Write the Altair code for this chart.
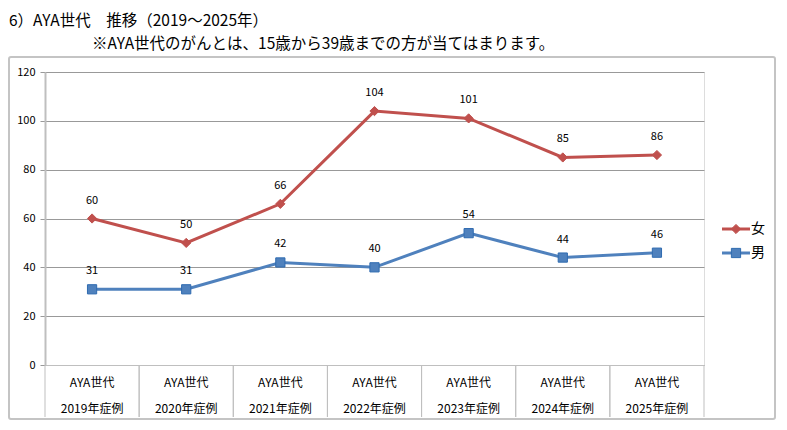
import altair as alt
import pandas as pd

# ---- data ----
years = ["2019年症例", "2020年症例", "2021年症例", "2022年症例", "2023年症例", "2024年症例", "2025年症例"]
group_labels = ["AYA世代", "AYA世代", "AYA世代", "AYA世代", "AYA世代", "AYA世代", "AYA世代"]
female = [60, 50, 66, 104, 101, 85, 86]
male = [31, 31, 42, 40, 54, 44, 46]
series = ["女", "男"]
colors = ["#C0504D", "#4F81BD"]
strokes = ["#C0504D", "#2F6BB0"]
shapes = ["diamond", "square"]
y_ticks = [0, 20, 40, 60, 80, 100, 120]
title_text = "6）AYA世代　推移（2019～2025年）"
subtitle_text = "※AYA世代のがんとは、15歳から39歳までの方が当てはまります。"

FONT = "Noto Sans CJK JP"
W, H = 659, 293

rows = []
for i, y in enumerate(years):
    rows.append({"cat": y, "top": group_labels[i], "value": female[i], "series": series[0]})
    rows.append({"cat": y, "top": group_labels[i], "value": male[i], "series": series[1]})
df = pd.DataFrame(rows)
cats = pd.DataFrame({"cat": years, "top": group_labels})

xscale = alt.Scale(type="band", paddingInner=0, paddingOuter=0)
x_enc = alt.X("cat:N", sort=years, scale=xscale,
              axis=alt.Axis(labels=False, ticks=False, title=None, grid=False,
                            domainColor="#BFBFBF", domainWidth=1))
y_enc = alt.Y("value:Q", scale=alt.Scale(domain=[0, 120], nice=False),
              axis=alt.Axis(values=y_ticks, title=None, grid=True, gridColor="#999999",
                            gridWidth=1, domainColor="#BFBFBF", domainWidth=2,
                            tickColor="#999999", tickSize=5, labelFontSize=11,
                            labelColor="#000000", labelPadding=5, labelFont=FONT))

one = pd.DataFrame({"k": [0]})

border = alt.Chart(one).mark_rect(fill="transparent", stroke="#C4C4C4", strokeWidth=2,
                                  cornerRadius=2).encode(
    x=alt.value(-36), x2=alt.value(730), y=alt.value(-15), y2=alt.value(347))

title = alt.Chart(one).mark_text(align="left", baseline="middle", font=FONT, fontSize=15.5,
                                 color="#000000", text=title_text).encode(
    x=alt.value(-36), y=alt.value(-51))
subtitle = alt.Chart(one).mark_text(align="left", baseline="middle", font=FONT, fontSize=15.5,
                                    color="#000000", text=subtitle_text).encode(
    x=alt.value(47), y=alt.value(-28))

sep0 = alt.Chart(cats).mark_rule(color="#BFBFBF", strokeWidth=1).encode(
    x=alt.X("cat:N", sort=years, scale=xscale, bandPosition=0),
    y=alt.value(H), y2=alt.value(H + 52))
sep1 = alt.Chart(cats).mark_rule(color="#BFBFBF", strokeWidth=1).encode(
    x=alt.X("cat:N", sort=years, scale=xscale, bandPosition=1),
    y=alt.value(H), y2=alt.value(H + 52))

cat_top = alt.Chart(cats).mark_text(font=FONT, fontSize=12, baseline="middle",
                                    color="#000000").encode(
    x=alt.X("cat:N", sort=years, scale=xscale), y=alt.value(H + 18), text="top:N")
cat_bot = alt.Chart(cats).mark_text(font=FONT, fontSize=12, baseline="middle",
                                    color="#000000").encode(
    x=alt.X("cat:N", sort=years, scale=xscale), y=alt.value(H + 44), text="cat:N")

color_scale = alt.Scale(domain=series, range=colors)
lines = alt.Chart(df).mark_line(strokeWidth=3).encode(
    x=x_enc, y=y_enc, color=alt.Color("series:N", scale=color_scale, legend=None),
    detail="series:N")
points = alt.Chart(df).mark_point(filled=True, size=85, opacity=1, strokeWidth=1).encode(
    x=alt.X("cat:N", sort=years, scale=xscale), y="value:Q",
    fill=alt.Fill("series:N", scale=color_scale, legend=None),
    stroke=alt.Stroke("series:N", scale=alt.Scale(domain=series, range=strokes), legend=None),
    shape=alt.Shape("series:N", scale=alt.Scale(domain=series, range=shapes), legend=None))
labels = alt.Chart(df).mark_text(font=FONT, fontSize=11, baseline="middle", dy=-18,
                                 color="#000000").encode(
    x=alt.X("cat:N", sort=years, scale=xscale), y="value:Q", text="value:Q")

legend_layers = []
leg_y = [157, 181]
for i, s in enumerate(series):
    d = pd.DataFrame({"series": [s]})
    legend_layers.append(alt.Chart(d).mark_rule(color=colors[i], strokeWidth=3).encode(
        x=alt.value(677), x2=alt.value(705), y=alt.value(leg_y[i])))
    legend_layers.append(alt.Chart(d).mark_point(filled=True, size=85, opacity=1,
                                                 shape=shapes[i], fill=colors[i],
                                                 stroke=strokes[i], strokeWidth=1).encode(
        x=alt.value(691), y=alt.value(leg_y[i])))
    legend_layers.append(alt.Chart(d).mark_text(align="left", baseline="middle", font=FONT,
                                                fontSize=14, color="#000000").encode(
        x=alt.value(706), y=alt.value(leg_y[i]), text="series:N"))

chart = alt.layer(border, title, subtitle, sep0, sep1, cat_top, cat_bot,
                  lines, points, labels, *legend_layers).properties(
    width=W, height=H,
    autosize=alt.AutoSizeParams(type="none"),
    padding={"left": 37, "top": 64, "right": 74, "bottom": 55},
).configure_view(stroke=None).configure(font=FONT)

chart.save("out.html", embed_options={"renderer": "svg", "actions": False})
